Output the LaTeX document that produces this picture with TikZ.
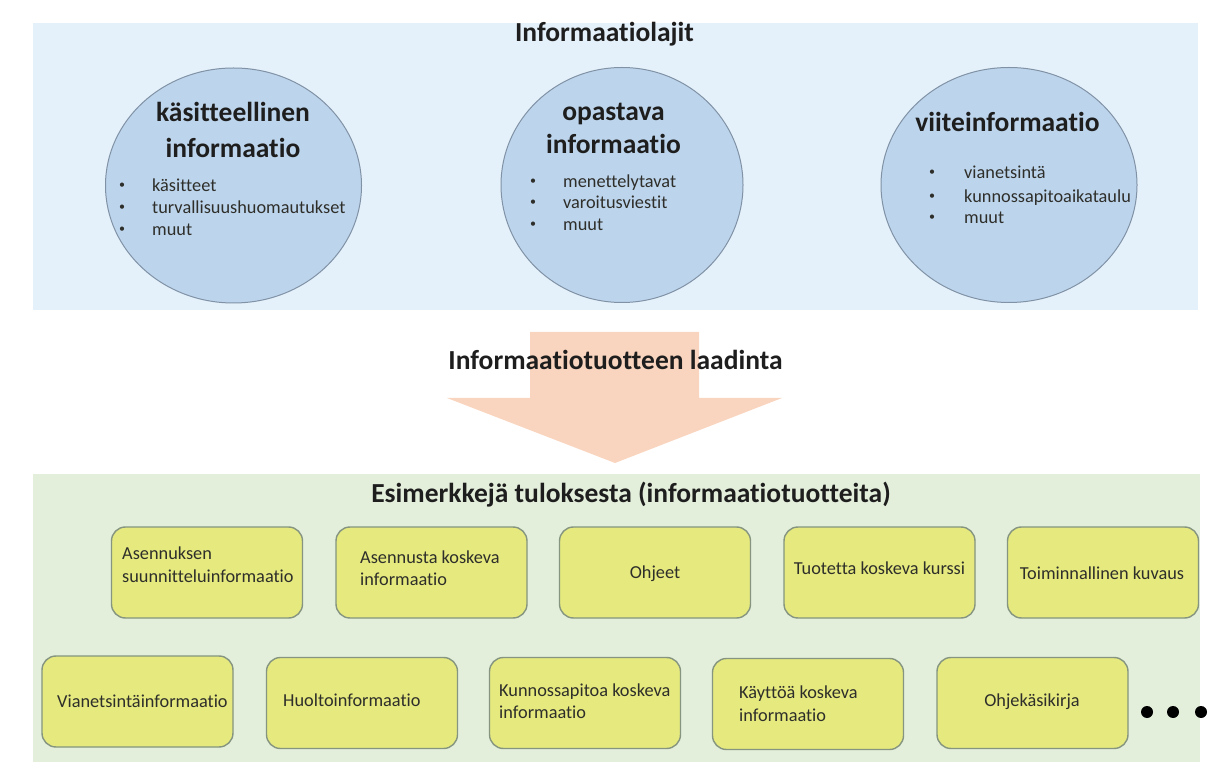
\documentclass[tikz,border=0pt]{standalone}
\usepackage{fontspec}
\setmainfont[Ligatures={NoCommon}]{Carlito}
\usetikzlibrary{shapes.geometric}

\definecolor{bluebg}{HTML}{E4F0FA}
\definecolor{circfill}{HTML}{BDD5EC}
\definecolor{circline}{HTML}{8092A6}
\definecolor{arrowfill}{HTML}{F9D4BE}
\definecolor{greenbg}{HTML}{E3EEDB}
\definecolor{boxfill}{HTML}{E5E97E}
\definecolor{boxline}{HTML}{85957F}
\definecolor{ink}{HTML}{1E1E1E}
\definecolor{bodyink}{HTML}{2E2E2A}

\begin{document}
\begin{tikzpicture}[x=1pt,y=-1pt,
  heading/.style={font=\fontsize{27.5}{33}\selectfont\bfseries, text=ink, inner sep=0pt, anchor=base},
  bodytext/.style={font=\fontsize{18.3}{24}\selectfont, text=bodyink, inner sep=0pt, anchor=base west},
  bodycenter/.style={bodytext, anchor=base},
  listmark/.style={font=\fontsize{12}{14}\selectfont, text=bodyink, inner sep=0pt, anchor=center},
  kind/.style={ellipse, draw=circline, line width=1pt, fill=circfill, inner sep=0pt},
  product/.style={rectangle, rounded corners=14pt, draw=boxline, line width=1.4pt,
                  fill=boxfill, minimum width=191pt, minimum height=91pt, inner sep=0pt},
  moredot/.style={circle, fill=black, minimum size=12pt, inner sep=0pt}
]
\useasboundingbox (0,0) rectangle (1208,775);

% section backgrounds
\fill[bluebg]  (33,23)  rectangle (1198,310);
\fill[greenbg] (33,474) rectangle (1200,762);

% ---- information kinds ----
\node[heading] (kindstitle) at (604.5,42) {Informaatiolajit};

\node[kind, minimum width=256pt, minimum height=235pt] (c1) at (233.5,185.5) {};
\node[kind, minimum width=242pt, minimum height=235pt] (c2) at (622,185) {};
\node[kind, minimum width=256pt, minimum height=235pt] (c3) at (1009,185) {};

\node[heading] (c1h1) at (233,122) {käsitteellinen};
\node[heading] (c1h2) at (233,158) {informaatio};
\node[listmark] (c1d1) at (122,186) {•};
\node[listmark] (c1d2) at (122,208) {•};
\node[listmark] (c1d3) at (122,230) {•};
\node[bodytext] (c1t1) at (152,192) {käsitteet};
\node[bodytext] (c1t2) at (152,214) {turvallisuushuomautukset};
\node[bodytext] (c1t3) at (152,236) {muut};

\node[heading] (c2h1) at (613.5,121) {opastava};
\node[heading] (c2h2) at (613.5,154) {informaatio};
\node[listmark] (c2d1) at (533,182) {•};
\node[listmark] (c2d2) at (533,203) {•};
\node[listmark] (c2d3) at (533,225) {•};
\node[bodytext] (c2t1) at (563,188) {menettelytavat};
\node[bodytext] (c2t2) at (563,209) {varoitusviestit};
\node[bodytext] (c2t3) at (563,231) {muut};

\node[heading] (c3h1) at (1007.5,132) {viiteinformaatio};
\node[listmark] (c3d1) at (932,173) {•};
\node[listmark] (c3d2) at (932,197) {•};
\node[listmark] (c3d3) at (932,218) {•};
\node[bodytext] (c3t1) at (964,179) {vianetsintä};
\node[bodytext] (c3t2) at (964,203) {kunnossapitoaikataulu};
\node[bodytext] (c3t3) at (964,224) {muut};

% ---- production arrow ----
\fill[arrowfill] (530,332) -- (699,332) -- (699,398) -- (782,398) -- (615,463)
                 -- (447,398) -- (530,398) -- cycle;
\node[heading] (makelabel) at (615.5,370) {Informaatiotuotteen laadinta};

% ---- example products ----
\node[heading] (examplestitle) at (631,503) {Esimerkkejä tuloksesta (informaatiotuotteita)};

\node[product] (p1) at (207,572.5) {};
\node[product] (p2) at (431.5,572.5) {};
\node[product] (p3) at (655,572.5) {};
\node[product] (p4) at (879.5,572.5) {};
\node[product] (p5) at (1103,572.5) {};

\node[product] (q1) at (137.5,701.5) {};
\node[product] (q2) at (362,703) {};
\node[product] (q3) at (585,703) {};
\node[product] (q4) at (808,704) {};
\node[product] (q5) at (1032.5,703) {};

\node[bodytext] (p1a) at (122,559) {Asennuksen};
\node[bodytext] (p1b) at (122,582) {suunnitteluinformaatio};
\node[bodytext] (p2a) at (360,563) {Asennusta koskeva};
\node[bodytext] (p2b) at (360,585) {informaatio};
\node[bodycenter] (p3a) at (655,578) {Ohjeet};
\node[bodycenter] (p4a) at (879.5,574) {Tuotetta koskeva kurssi};
\node[bodycenter] (p5a) at (1102,579) {Toiminnallinen kuvaus};

\node[bodytext] (q1a) at (57,707) {Vianetsintäinformaatio};
\node[bodytext] (q2a) at (283,706) {Huoltoinformaatio};
\node[bodytext] (q3a) at (499,696) {Kunnossapitoa koskeva};
\node[bodytext] (q3b) at (499,718) {informaatio};
\node[bodytext] (q4a) at (739,698) {Käyttöä koskeva};
\node[bodytext] (q4b) at (739,721) {informaatio};
\node[bodycenter] (q5a) at (1032,706) {Ohjekäsikirja};

\node[moredot] (m1) at (1147,712) {};
\node[moredot] (m2) at (1173,712) {};
\node[moredot] (m3) at (1201,712) {};
\end{tikzpicture}
\end{document}
